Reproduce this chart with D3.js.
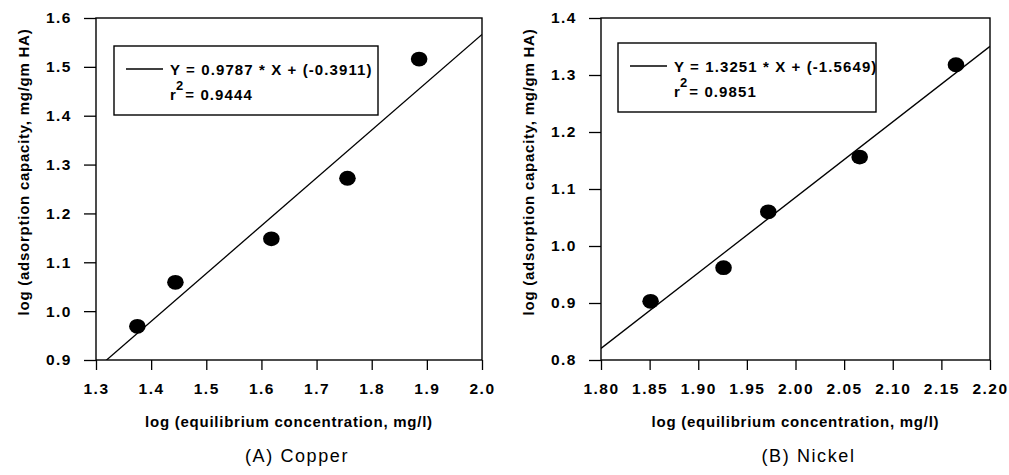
<!DOCTYPE html>
<html>
<head>
<meta charset="utf-8">
<script src="https://cdn.jsdelivr.net/npm/d3@7"></script>
<style>
  html, body { margin: 0; padding: 0; background: #fff; }
  svg { display: block; }
  text { font-family: "Liberation Sans", Arial, Helvetica, sans-serif; fill: #000; }
</style>
</head>
<body>
<svg id="chart" width="1009" height="475"></svg>
<script>
// ---------- data ----------
const copperX = [1.375, 1.444, 1.618, 1.756, 1.886];
const copperY = [0.969, 1.059, 1.148, 1.272, 1.516];
const nickelX = [1.851, 1.926, 1.972, 2.066, 2.165];
const nickelY = [0.903, 0.962, 1.060, 1.156, 1.318];

const fitSlope = [0.9787, 1.3251];
const fitIntercept = [-0.3911, -1.5649];
const fitEquations = ["Y = 0.9787 * X + (-0.3911)", "Y = 1.3251 * X + (-1.5649)"];
const fitR2 = ["0.9444", "0.9851"];

const copperXTicks = [1.3, 1.4, 1.5, 1.6, 1.7, 1.8, 1.9, 2.0];
const copperYTicks = [0.9, 1.0, 1.1, 1.2, 1.3, 1.4, 1.5, 1.6];
const nickelXTicks = [1.80, 1.85, 1.90, 1.95, 2.00, 2.05, 2.10, 2.15, 2.20];
const nickelYTicks = [0.8, 0.9, 1.0, 1.1, 1.2, 1.3, 1.4];

const captions = ["(A) Copper", "(B) Nickel"];
const xTitle = "log (equilibrium concentration, mg/l)";
const yTitle = "log (adsorption capacity, mg/gm HA)";

// ---------- layout ----------
const panels = [
  { xs: copperX, ys: copperY, xTicks: copperXTicks, yTicks: copperYTicks,
    xFmt: d3.format(".1f"), yFmt: d3.format(".1f"),
    left: 96, right: 482, top: 18, bottom: 360,
    legend: { x: 114, y: 46, w: 264, h: 69 }, capDx: 8 },
  { xs: nickelX, ys: nickelY, xTicks: nickelXTicks, yTicks: nickelYTicks,
    xFmt: d3.format(".2f"), yFmt: d3.format(".1f"),
    left: 601, right: 990, top: 18, bottom: 360,
    legend: { x: 618, y: 43, w: 258, h: 69 }, capDx: 13 }
];

const svg = d3.select("#chart");

panels.forEach((p, i) => {
  const x = d3.scaleLinear()
    .domain(d3.extent(p.xTicks))
    .range([p.left, p.right]);
  const y = d3.scaleLinear()
    .domain(d3.extent(p.yTicks))
    .range([p.bottom, p.top]);

  const g = svg.append("g");

  const clipId = "clip" + i;
  svg.append("defs").append("clipPath").attr("id", clipId)
    .append("rect")
    .attr("x", p.left).attr("y", p.top)
    .attr("width", p.right - p.left).attr("height", p.bottom - p.top);

  const xAxis = d3.axisBottom(x).tickValues(p.xTicks).tickFormat(p.xFmt)
    .tickSize(10).tickSizeOuter(0).tickPadding(13);
  const yAxis = d3.axisLeft(y).tickValues(p.yTicks).tickFormat(p.yFmt)
    .tickSize(12).tickSizeOuter(0).tickPadding(12);

  const gx = g.append("g").attr("transform", `translate(0,${p.bottom})`).call(xAxis);
  const gy = g.append("g").attr("transform", `translate(${p.left},0)`).call(yAxis);
  [gx, gy].forEach(ax => {
    ax.select(".domain").remove();
    ax.selectAll(".tick line").attr("stroke", "#000").attr("stroke-width", 1.3);
    ax.selectAll(".tick text")
      .attr("font-size", 15.5).attr("font-weight", "bold")
      .style("letter-spacing", "1.5px").attr("fill", "#000");
  });

  g.append("rect")
    .attr("x", p.left).attr("y", p.top)
    .attr("width", p.right - p.left).attr("height", p.bottom - p.top)
    .attr("fill", "none").attr("stroke", "#000").attr("stroke-width", 1.4);

  const xd = x.domain();
  const fit = xd.map(v => [v, fitSlope[i] * v + fitIntercept[i]]);
  g.append("path")
    .attr("clip-path", `url(#${clipId})`)
    .attr("d", d3.line().x(d => x(d[0])).y(d => y(d[1]))(fit))
    .attr("fill", "none").attr("stroke", "#000").attr("stroke-width", 1.3);

  g.selectAll("ellipse.pt")
    .data(d3.zip(p.xs, p.ys))
    .join("ellipse")
    .attr("class", "pt")
    .attr("cx", d => x(d[0])).attr("cy", d => y(d[1]))
    .attr("rx", 8.3).attr("ry", 7.4)
    .attr("fill", "#000");

  const L = p.legend;
  const lg = g.append("g");
  lg.append("rect")
    .attr("x", L.x).attr("y", L.y).attr("width", L.w).attr("height", L.h)
    .attr("fill", "#fff").attr("stroke", "#000").attr("stroke-width", 1.4);
  lg.append("line")
    .attr("x1", L.x + 12).attr("x2", L.x + 49)
    .attr("y1", L.y + 23).attr("y2", L.y + 23)
    .attr("stroke", "#000").attr("stroke-width", 1.3);
  lg.append("text")
    .attr("x", L.x + 56).attr("y", L.y + 29)
    .attr("font-size", 15).attr("font-weight", "bold")
    .style("letter-spacing", "1.1px")
    .text(fitEquations[i]);
  const r2 = lg.append("text")
    .attr("x", L.x + 56).attr("y", L.y + 54)
    .attr("font-size", 15).attr("font-weight", "bold")
    .style("letter-spacing", "1.1px");
  r2.append("tspan").text("r");
  r2.append("tspan").attr("dy", -10).attr("dx", -1).attr("font-size", 13).text("2");
  r2.append("tspan").attr("dy", 10).attr("dx", 1).text("= " + fitR2[i]);

  const cx = (p.left + p.right) / 2;
  g.append("text")
    .attr("x", cx).attr("y", 427)
    .attr("text-anchor", "middle")
    .attr("font-size", 15).attr("font-weight", "bold")
    .style("letter-spacing", "0.75px")
    .text(xTitle);
  g.append("text")
    .attr("transform", `translate(${p.left - 67},172) rotate(-90)`)
    .attr("text-anchor", "middle")
    .attr("font-size", 15).attr("font-weight", "bold")
    .style("letter-spacing", "0.75px")
    .text(yTitle);

  g.append("text")
    .attr("x", cx + p.capDx).attr("y", 462)
    .attr("text-anchor", "middle")
    .attr("font-size", 18)
    .style("letter-spacing", "1.6px")
    .text(captions[i]);
});
</script>
</body>
</html>
